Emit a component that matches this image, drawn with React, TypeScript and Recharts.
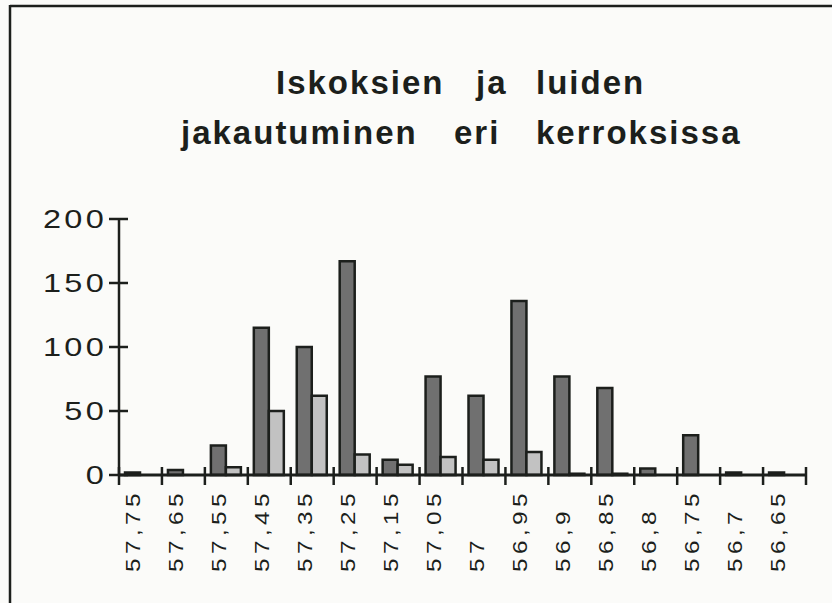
import React from 'react';
import { BarChart, Bar, XAxis, YAxis } from 'recharts';

const categories = ['57,75', '57,65', '57,55', '57,45', '57,35', '57,25', '57,15', '57,05', '57', '56,95', '56,9', '56,85', '56,8', '56,75', '56,7', '56,65'];
const iskokset = [2, 4, 23, 115, 100, 167, 12, 77, 62, 136, 77, 68, 5, 31, 2, 2];
const luut = [0, 0, 6, 50, 62, 16, 8, 14, 12, 18, 1, 1, 0, 0, 0, 0];
const yTicks = [0, 50, 100, 150, 200];
const titleLine1 = ['Iskoksien', 'ja', 'luiden'];
const titleLine2 = ['jakautuminen', 'eri', 'kerroksissa'];

const data = categories.map((c, i) => ({ name: c, iskokset: iskokset[i], luut: luut[i] }));

const W = 832;
const H = 603;
const margin = { top: 219, right: 26, bottom: 28, left: 59 };
const Y_AXIS_W = 60;
const X_AXIS_H = 100;
const plotW = W - margin.left - margin.right - Y_AXIS_W;
const band = plotW / categories.length;
const INK = '#1c1f1c';
const FONT = '"Liberation Sans", Arial, Helvetica, sans-serif';

const XTick = (props: any) => {
  const { x, y, payload, index } = props;
  const left = x - band / 2;
  const last = index === categories.length - 1;
  const ty = y + 97;
  return (
    <g>
      <line x1={left} x2={left} y1={y - 8} y2={y + 10} stroke={INK} strokeWidth={2.5} />
      {last && <line x1={x + band / 2} x2={x + band / 2} y1={y - 8} y2={y + 10} stroke={INK} strokeWidth={2.5} />}
      <text
        transform={`translate(${x} ${ty}) rotate(-90) scale(1.22 1)`}
        x={0}
        y={0}
        textAnchor="start"
        fontSize={20}
        letterSpacing={3.6}
        fill={INK}
        fontFamily={FONT}
      >
        {payload.value}
      </text>
    </g>
  );
};

const YTick = (props: any) => {
  const { x, y, payload } = props;
  return (
    <g>
      <line x1={x - 10} x2={x + 9} y1={y} y2={y} stroke={INK} strokeWidth={2.5} />
      <text
        transform={`translate(${x - 12} ${y}) scale(1.3 1)`}
        x={0}
        y={0}
        dy="0.36em"
        textAnchor="end"
        fontSize={25}
        letterSpacing={2.5}
        fill={INK}
        fontFamily={FONT}
      >
        {payload.value}
      </text>
    </g>
  );
};

const titleX1 = [276, 476, 536];
const titleX2 = [181, 454, 536];

export default function App() {
  return (
    <div style={{ position: 'absolute', left: 0, top: 0, width: W, height: H, overflow: 'hidden', background: '#fbfbf9' }}>
      <svg width={W} height={H} style={{ position: 'absolute', left: 0, top: 0 }}>
        <line x1={10} x2={W + 5} y1={6} y2={6} stroke={INK} strokeWidth={2.5} />
        <line x1={10} x2={10} y1={5} y2={H + 5} stroke={INK} strokeWidth={2.5} />
        {titleLine1.map((w, i) => (
          <text key={w} x={titleX1[i]} y={94} fontSize={33} fontWeight="bold" letterSpacing={2} fill={INK} fontFamily={FONT}>
            {w}
          </text>
        ))}
        {titleLine2.map((w, i) => (
          <text key={w} x={titleX2[i]} y={144} fontSize={33} fontWeight="bold" letterSpacing={2} fill={INK} fontFamily={FONT}>
            {w}
          </text>
        ))}
      </svg>
      <div style={{ position: 'absolute', left: 0, top: 0 }}>
        <BarChart width={W} height={H} data={data} margin={margin} barCategoryGap="14%" barGap={0}>
          <XAxis
            dataKey="name"
            interval={0}
            height={X_AXIS_H}
            tickSize={0}
            tickMargin={0}
            tickLine={false}
            axisLine={{ stroke: INK, strokeWidth: 3 }}
            tick={XTick}
          />
          <YAxis
            width={Y_AXIS_W}
            domain={[0, 200]}
            ticks={yTicks}
            interval={0}
            tickSize={0}
            tickMargin={0}
            tickLine={false}
            axisLine={{ stroke: INK, strokeWidth: 2.5 }}
            tick={YTick}
          />
          <Bar dataKey="iskokset" fill="#707070" stroke={INK} strokeWidth={2.5} isAnimationActive={false} />
          <Bar dataKey="luut" fill="#c2c2c2" stroke={INK} strokeWidth={2.5} isAnimationActive={false} />
        </BarChart>
      </div>
    </div>
  );
}
